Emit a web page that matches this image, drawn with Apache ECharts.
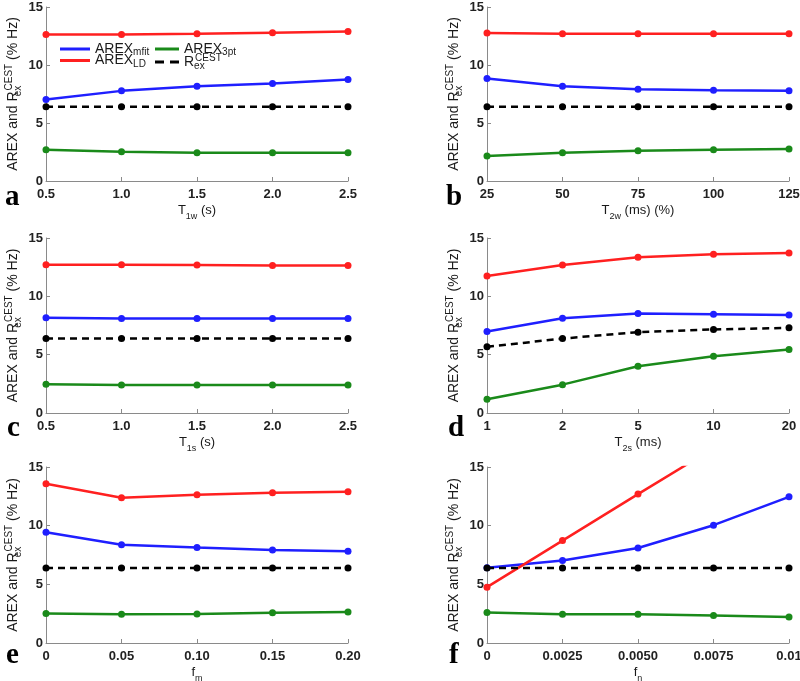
<!DOCTYPE html>
<html><head><meta charset="utf-8">
<script src="https://cdn.jsdelivr.net/npm/echarts@6/dist/echarts.min.js"></script>
<style>html,body{margin:0;padding:0;background:#fff}#c{width:800px;height:681px}</style>
</head><body><div id="c"></div>
<script>
// ---- data ----
const xLabelsA = ['0.5','1.0','1.5','2.0','2.5'];
const xLabelsB = ['25','50','75','100','125'];
const xLabelsC = ['0.5','1.0','1.5','2.0','2.5'];
const xLabelsD = ['1','2','5','10','20'];
const xLabelsE = ['0','0.05','0.10','0.15','0.20'];
const xLabelsF = ['0','0.0025','0.0050','0.0075','0.01'];
const yTicks = [0, 5, 10, 15];

const mfitA = [7.03, 7.77, 8.17, 8.40, 8.75];
const ldA   = [12.62, 12.62, 12.70, 12.79, 12.88];
const pt3A  = [2.70, 2.52, 2.44, 2.44, 2.44];
const rexA  = [6.40, 6.40, 6.40, 6.40, 6.40];

const mfitB = [8.83, 8.17, 7.92, 7.83, 7.77];
const ldB   = [12.76, 12.70, 12.70, 12.70, 12.70];
const pt3B  = [2.15, 2.44, 2.61, 2.70, 2.75];
const rexB  = [6.40, 6.40, 6.40, 6.40, 6.40];

const mfitC = [8.16, 8.10, 8.10, 8.10, 8.10];
const ldC   = [12.71, 12.71, 12.68, 12.65, 12.65];
const pt3C  = [2.46, 2.41, 2.41, 2.40, 2.40];
const rexC  = [6.38, 6.38, 6.38, 6.38, 6.38];

const mfitD = [6.99, 8.13, 8.53, 8.47, 8.39];
const ldD   = [11.74, 12.68, 13.34, 13.60, 13.71];
const pt3D  = [1.17, 2.43, 4.01, 4.87, 5.44];
const rexD  = [5.67, 6.38, 6.93, 7.16, 7.30];

const mfitE = [9.44, 8.38, 8.13, 7.93, 7.81];
const ldE   = [13.57, 12.38, 12.63, 12.80, 12.89];
const pt3E  = [2.51, 2.45, 2.48, 2.57, 2.65];
const rexE  = [6.39, 6.39, 6.39, 6.39, 6.39];

const mfitF = [6.42, 7.04, 8.10, 10.04, 12.46];
const ldF   = [4.76, 8.73, 12.69, 16.6, 20.5];
const pt3F  = [2.59, 2.45, 2.45, 2.34, 2.22];
const rexF  = [6.39, 6.39, 6.39, 6.39, 6.39];

const xNames = ['{n|T}{s|1w}{n| (s)}', '{n|T}{s|2w}{n| (ms) (%)}', '{n|T}{s|1s}{n| (s)}',
                '{n|T}{s|2s}{n| (ms)}', '{n|f}{s|m}', '{n|f}{s|n}'];
const panelLetters = ['a','b','c','d','e','f'];

// ---- layout ----
const grids = [
  {left: 46, top: 7, width: 302, height: 174},
  {left: 487, top: 7, width: 302, height: 174},
  {left: 46, top: 238, width: 302, height: 175},
  {left: 487, top: 238, width: 302, height: 175},
  {left: 46, top: 467, width: 302, height: 176},
  {left: 487, top: 467, width: 302, height: 176}
].map(g => Object.assign(g, {outerBoundsMode: 'none', containLabel: false}));
const letterPos = [[5,183],[446,183],[7,414],[448,414],[6,641],[449,641]];
const panels = [
  {x: xLabelsA, mfit: mfitA, ld: ldA, pt3: pt3A, rex: rexA},
  {x: xLabelsB, mfit: mfitB, ld: ldB, pt3: pt3B, rex: rexB},
  {x: xLabelsC, mfit: mfitC, ld: ldC, pt3: pt3C, rex: rexC},
  {x: xLabelsD, mfit: mfitD, ld: ldD, pt3: pt3D, rex: rexD},
  {x: xLabelsE, mfit: mfitE, ld: ldE, pt3: pt3E, rex: rexE},
  {x: xLabelsF, mfit: mfitF, ld: ldF, pt3: pt3F, rex: rexF}
];

const COL = {mfit: '#1f1fff', ld: '#ff2020', pt3: '#1a8a1a', rex: '#000000'};
const FONT = 'Liberation Sans, Arial, sans-serif';
const axisGray = '#8a8a8a';
const richName = {
  n: {fontSize: 13, fontFamily: FONT, color: '#1a1a1a'},
  s: {fontSize: 9, fontFamily: FONT, color: '#1a1a1a', verticalAlign: 'bottom', lineHeight: 22, padding: [8,0,0,0]},
  sb: {fontSize: 9, fontFamily: FONT, color: '#1a1a1a', width: 1, padding: [10,0,0,0]},
  sp: {fontSize: 9, fontFamily: FONT, color: '#1a1a1a', padding: [0,0,8,0]}
};
const richY = {
  n: {fontSize: 14, fontFamily: FONT, color: '#1a1a1a'},
  sb: {fontSize: 10, fontFamily: FONT, color: '#1a1a1a', width: 1, padding: [10,0,0,0]},
  sp: {fontSize: 10, fontFamily: FONT, color: '#1a1a1a', padding: [0,0,8,0]}
};
const richLegend = {
  n: {fontSize: 14, fontFamily: FONT, color: '#1a1a1a', lineHeight: 15},
  s: {fontSize: 10, fontFamily: FONT, color: '#1a1a1a', padding: [7,0,0,0]},
  sb: {fontSize: 10, fontFamily: FONT, color: '#1a1a1a', width: 1, padding: [9,0,0,0]},
  sp: {fontSize: 10, fontFamily: FONT, color: '#1a1a1a', padding: [0,0,7,0]}
};

const option = {
  animation: false,
  backgroundColor: '#ffffff',
  grid: grids,
  title: panelLetters.map((t, i) => ({
    text: t, left: letterPos[i][0], top: letterPos[i][1], padding: 0,
    textStyle: {fontFamily: 'Liberation Serif, Times New Roman, serif', fontWeight: 'bold', fontSize: 29, color: '#000'}
  })),
  legend: [
    {data: [{name: 'mfit', icon: 'rect'}, {name: 'LD', icon: 'rect'}], orient: 'vertical', left: 60, top: 42,
     itemWidth: 30, itemHeight: 3, itemGap: -4},
    {data: [{name: '3pt', icon: 'rect'}, {name: 'Rex', icon: 'path://M0,0H9V3H0Z M15,0H24V3H15Z'}], orient: 'vertical', left: 155, top: 42,
     itemWidth: 24, itemHeight: 3, itemGap: -4}
  ].map(l => Object.assign(l, {
    padding: 0,
    textStyle: {rich: richLegend, fontSize: 14},
    formatter: function (name) {
      if (name === 'mfit') return '{n|AREX}{s|mfit}';
      if (name === 'LD') return '{n|AREX}{s|LD}';
      if (name === '3pt') return '{n|AREX}{s|3pt}';
      return '{n|R}{sb|ex}{sp|CEST}';
    }
  })),
  xAxis: panels.map((p, i) => ({
    gridIndex: i, type: 'category', boundaryGap: false, data: p.x,
    axisLine: {lineStyle: {color: axisGray, width: 1}},
    axisTick: {inside: true, length: 4, alignWithLabel: true, lineStyle: {color: axisGray}},
    axisLabel: {fontSize: 13, fontWeight: 'bold', color: '#222', fontFamily: FONT, margin: 7},
    name: xNames[i], nameLocation: 'middle', nameGap: 18,
    nameTextStyle: {rich: richName}
  })),
  yAxis: panels.map((p, i) => ({
    gridIndex: i, type: 'value', min: yTicks[0], max: yTicks[yTicks.length - 1], interval: yTicks[1] - yTicks[0],
    axisLine: {show: true, lineStyle: {color: axisGray, width: 1}},
    axisTick: {show: true, inside: true, length: 4, lineStyle: {color: axisGray}},
    splitLine: {show: false},
    axisLabel: {fontSize: 13, fontWeight: 'bold', color: '#222', fontFamily: FONT, margin: 3},
    name: '{n|AREX and R}{sb|ex}{sp|CEST}{n| (% Hz)}', nameLocation: 'middle', nameRotate: 90, nameGap: 23,
    nameTextStyle: {rich: richY}
  })),
  series: []
};

panels.forEach((p, i) => {
  [['mfit', p.mfit], ['ld', p.ld], ['pt3', p.pt3], ['rex', p.rex]].forEach(([k, d]) => {
    const nm = k === 'mfit' ? 'mfit' : k === 'ld' ? 'LD' : k === 'pt3' ? '3pt' : 'Rex';
    option.series.push({
      name: nm, type: 'line', xAxisIndex: i, yAxisIndex: i, data: d,
      clip: true, symbol: 'circle', symbolSize: 7,
      lineStyle: {color: COL[k], width: 2.5, type: k === 'rex' ? [7, 5] : 'solid'},
      itemStyle: {color: COL[k]},
      z: k === 'rex' ? 3 : 2
    });
  });
});

const chart = echarts.init(document.getElementById('c'), null, {renderer: 'canvas'});
chart.setOption(option);
</script></body></html>
